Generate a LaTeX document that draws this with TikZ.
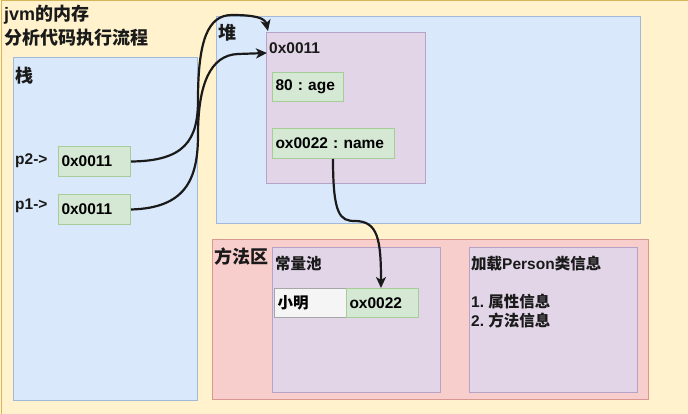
\documentclass[tikz,border=0pt]{standalone}
\usepackage{fontspec}
\setmainfont{Liberation Sans}
\newfontfamily\cjk{Noto Sans CJK SC}
\newcommand\zh[1]{{\cjk #1}}
\usetikzlibrary{arrows.meta}
\frenchspacing
\definecolor{bgY}{HTML}{FFF2CC}
\definecolor{bgYs}{HTML}{D6B656}
\definecolor{bluF}{HTML}{DAE8FC}
\definecolor{bluS}{HTML}{A3B9DA}
\definecolor{purF}{HTML}{E1D5E7}
\definecolor{purS}{HTML}{B7A3C7}
\definecolor{grnF}{HTML}{D5E8D4}
\definecolor{grnS}{HTML}{A6CC97}
\definecolor{redF}{HTML}{F8CECC}
\definecolor{redS}{HTML}{D99792}
\definecolor{gryF}{HTML}{F5F5F5}
\definecolor{gryS}{HTML}{A6A6A6}
\definecolor{ink}{HTML}{1A1A1A}
\tikzset{
  box/.style={draw, line width=1pt, anchor=north west, inner xsep=3pt, inner ysep=0pt, align=left},
  bluebox/.style={box, fill=bluF, draw=bluS},
  purbox/.style={box, fill=purF, draw=purS},
  grnbox/.style={box, fill=grnF, draw=grnS},
  redbox/.style={box, fill=redF, draw=redS},
  grybox/.style={box, fill=gryF, draw=gryS},
  lbl/.style={anchor=west, inner sep=0pt, text=ink},
  big/.style={font=\bfseries\fontsize{18}{22}\selectfont},
  conn/.style={draw=ink, line width=2.2pt, -{Stealth[length=11pt,width=10pt,inset=3pt]}},
}
\begin{document}
\begin{tikzpicture}[x=1pt,y=-1pt,font=\bfseries\fontsize{15.5}{18}\selectfont]
\useasboundingbox (0,0) rectangle (688,414);
\fill[bgY] (0,0) rectangle (688,414);
\draw[bgYs, line width=1pt] (1,414) -- (1,0.5) -- (688,0.5);

% title
\node[lbl,big] (t1) at (4,15) {jvm\zh{的内存}};
\node[lbl,big] (t2) at (4,38) {\zh{分析代码执行流程}};

% stack
\node[bluebox, minimum width=184pt, minimum height=343pt] (stack) at (13,57) {};
\node[lbl,big] (stackL) at (15,76) {\zh{栈}};
\node[lbl] (p2L) at (15,161) {p2->};
\node[lbl] (p1L) at (15,206) {p1->};
\node[grnbox, minimum height=30pt, text width=66pt] (p2) at (58,146) {0x0011};
\node[grnbox, minimum height=30pt, text width=66pt] (p1) at (58,194) {0x0011};

% heap
\node[bluebox, minimum width=424pt, minimum height=207pt] (heap) at (216,16) {};
\node[lbl,big] (heapL) at (218,33) {\zh{堆}};
\node[purbox, minimum width=159pt, minimum height=151pt] (obj) at (266,32) {};
\node[lbl] (objL) at (269,48) {0x0011};
\node[grnbox, minimum height=29pt, text width=65pt] (age) at (272,72) {80 : age};
\node[grnbox, minimum height=30pt, text width=116pt] (name) at (272,128) {ox0022 : name};

% method area
\node[redbox, minimum width=436pt, minimum height=160pt] (method) at (212,239) {};
\node[lbl,big] (methodL) at (214,257) {\zh{方法区}};
\node[purbox, minimum width=168pt, minimum height=145pt] (pool) at (272,247) {};
\node[lbl] (poolL) at (275,264) {\zh{常量池}};
\node[grybox, minimum height=29pt, text width=66pt] (xm) at (274,288) {\zh{小明}};
\node[grnbox, minimum height=29pt, text width=66pt] (ox) at (346,288) {ox0022};
\node[purbox, minimum width=168pt, minimum height=145pt] (info) at (469,247) {};
\node[lbl] (infoL) at (471,264) {\zh{加载}Person\zh{类信息}};
\node[lbl] (info1) at (471,302) {1. \zh{属性信息}};
\node[lbl] (info2) at (471,321) {2. \zh{方法信息}};

% connectors
\coordinate (objTop) at (268,31);
\coordinate (objLeft) at (267,53);
\coordinate (oxTop) at (381,288);
\draw[conn] (p2.east) .. controls (185,161) and (198,140) .. (198,100)
  .. controls (198,40) and (208,15) .. (232,15)
  .. controls (255,15) and (265,18) .. (objTop);
\draw[conn] (p1.east) .. controls (185,208) and (198,180) .. (198,135)
  .. controls (198,85) and (210,55) .. (238,54)
  -- (objLeft);
\draw[conn] (name.south -| 333,0) .. controls (333,215) and (340,221) .. (355,221)
  .. controls (378,221) and (381,240) .. (oxTop);
\end{tikzpicture}
\end{document}
